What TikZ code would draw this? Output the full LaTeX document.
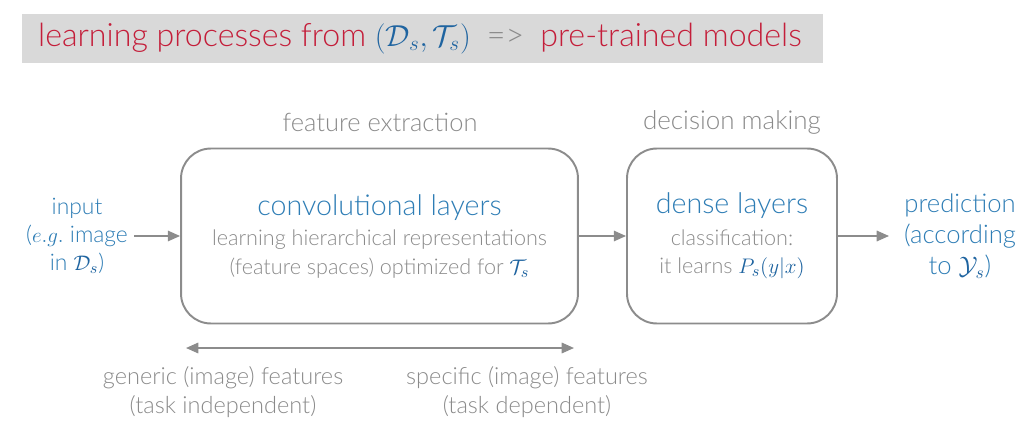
\documentclass[tikz,border=0pt]{standalone}
\usepackage{fontspec}
\setmainfont{Lato}[UprightFont={* Light}]
\usetikzlibrary{arrows.meta,positioning}
\definecolor{ttlred}{HTML}{C41E3A}
\definecolor{ttlbg}{HTML}{D9D9D9}
\definecolor{hdblue}{HTML}{2E7DB5}
\definecolor{mblue}{HTML}{1F64A0}
\definecolor{txtgray}{HTML}{8A8A8A}
\definecolor{lngray}{HTML}{8C8C8C}
\newcommand{\fsz}[2]{\fontsize{#1}{#2}\selectfont}
\begin{document}
\begin{tikzpicture}[x=0.02cm,y=-0.02cm,
	layer/.style={draw=lngray,line width=1.1pt,rounded corners=17pt,align=center,text=txtgray},
	lbl/.style={text=txtgray,align=center},
	arr/.style={-{Triangle[length=7pt,width=6pt]},draw=lngray,line width=0.9pt}]
	\useasboundingbox (0,0) rectangle (1036,443);
	\fill[ttlbg] (22,14) rectangle (823,63);
	\node[font=\fsz{18.3}{22}] (title) at (420,38.5)
		{\color{ttlred}learning processes from {\color{mblue}$(\mathcal{D}_s,\mathcal{T}_s)$}\enspace{\color{txtgray}=>}\enspace pre-trained models};

	\node[layer,minimum width=7.94cm,minimum height=3.5cm,font=\fsz{12.3}{16}] (conv) at (379.5,236)
		{{\fsz{16.3}{16}\color{hdblue}convolutional layers}\\[1.6pt]
		 learning hierarchical representations\\
		 (feature spaces) optimized for {\color{mblue}$\mathcal{T}_s$}};
	\node[layer,minimum width=4.2cm,minimum height=3.5cm,font=\fsz{12.3}{16}] (dense) at (732,236)
		{{\fsz{16.3}{16}\color{hdblue}dense layers}\\[2pt]
		 classification:\\
		 it learns {\color{mblue}$P_s(y|x)$}};
	\node[lbl,font=\fsz{14.5}{17}] (fext) at (380,122) {feature extraction};
	\node[lbl,font=\fsz{14.8}{17}] (dmak) at (732,122) {decision making};

	\node[text=hdblue,align=center,font=\fsz{13}{15.9}] (input) at (77,236)
		{input\\ ($e.g.$ image\\ in {\color{mblue}$\mathcal{D}_s$})};
	\node[text=hdblue,align=center,font=\fsz{14.6}{17.6}] (pred) at (960,236)
		{prediction\\ (according\\ to {\color{mblue}$\mathcal{Y}_s$})};

	\draw[arr] (input) -- (conv);
	\draw[arr] (conv) -- (dense);
	\draw[arr,shorten >=5pt] (dense) -- (pred);

	\coordinate (fl) at (186,348);
	\coordinate (fr) at (574,348);
	\draw[arr,{Triangle[length=7pt,width=6pt]}-{Triangle[length=7pt,width=6pt]}] (fl) -- (fr);
	\node[lbl,font=\fsz{13.4}{16.4}] (gen) at (223,392) {generic (image) features\\ (task independent)};
	\node[lbl,font=\fsz{13.4}{16.4}] (spec) at (527,392) {specific (image) features\\ (task dependent)};
\end{tikzpicture}
\end{document}
